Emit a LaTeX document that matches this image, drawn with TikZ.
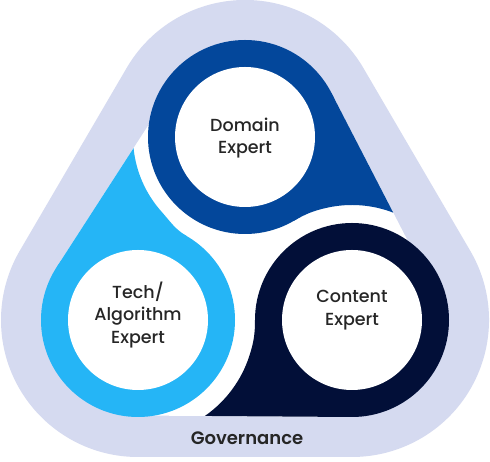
\documentclass[tikz,border=0pt]{standalone}
\usepackage{fontspec}
\setmainfont{Poppins}
\IfFontExistsTF{Poppins Medium}{\newfontfamily\medfont{Poppins Medium}}{\newfontfamily\medfont{Poppins}}
\IfFontExistsTF{Poppins SemiBold}{\newfontfamily\semifont{Poppins SemiBold}}{\newfontfamily\semifont{Poppins}[UprightFont=*-Bold]}
\usetikzlibrary{calc}
\definecolor{lav}{HTML}{D5DAF0}
\definecolor{dblue}{HTML}{03479B}
\definecolor{lblue}{HTML}{25B5F6}
\definecolor{navy}{HTML}{020F38}
\definecolor{ink}{HTML}{262626}
\tikzset{
  inner/.style={circle, fill=white, minimum size=140pt, inner sep=0pt},
  label/.style={text=ink, align=center, font=\medfont\fontsize{17.5}{22.5}\selectfont},
  govlabel/.style={text=ink, font=\semifont\fontsize{18}{22}\selectfont}
}
\begin{document}
\begin{tikzpicture}[x=1pt,y=1pt]
\useasboundingbox (0,0) rectangle (490,462);
\fill[white] (0,0) rectangle (490,462);
\coordinate (A) at (245,325);
\coordinate (B) at (138,142);
\coordinate (C) at (352,142);
% background hull
\fill[lav] ($(A)+(150:137)$) arc[start angle=150, end angle=30, radius=137]
  -- ($(C)+(30:137)$) arc[start angle=30, end angle=-90, radius=137]
  -- ($(B)+(-90:137)$) arc[start angle=-90, end angle=-210, radius=137]
  -- cycle;
% white centre region
\fill[white] (331.3,369.2) -- (409.8,217.2) -- (351.3,45) -- (146.3,46.4) -- (56.5,194.6) -- (151.5,341.6) -- cycle;
% tips
\fill[dblue] ($(A)+(27.1:97)$) -- ($(C)+(69:115)$) arc[start angle=69, end angle=102, radius=115]
  to[out=192, in=30] ($(A)+(-59.7:97)$) -- (A) -- cycle;
\fill[lblue] ($(B)+(147.2:97)$) -- ($(A)+(185.7:112)$) arc[start angle=185.7, end angle=221.7, radius=112]
  to[out=311.7, in=149.7] ($(B)+(59.7:97)$) -- (B) -- cycle;
\fill[navy] ($(C)+(269.6:97)$) -- ($(B)+(304.9:117)$) arc[start angle=304.9, end angle=342, radius=117]
  to[out=72, in=270] ($(C)+(180:97)$) -- (C) -- cycle;
% rings
\fill[dblue] (A) circle[radius=97];
\fill[lblue] (B) circle[radius=97];
\fill[navy] (C) circle[radius=97];
\node[inner] (c1) at (A) {};
\node[inner] (c2) at (B) {};
\node[inner] (c3) at (C) {};
% labels
\node[label] (domain) at (245,324) {Domain\\Expert};
\node[label] (tech) at (138,147) {Tech/\\Algorithm\\Expert};
\node[label] (content) at (352,152) {Content\\Expert};
\node[govlabel] (gov) at (247,24) {Governance};
\end{tikzpicture}
\end{document}
